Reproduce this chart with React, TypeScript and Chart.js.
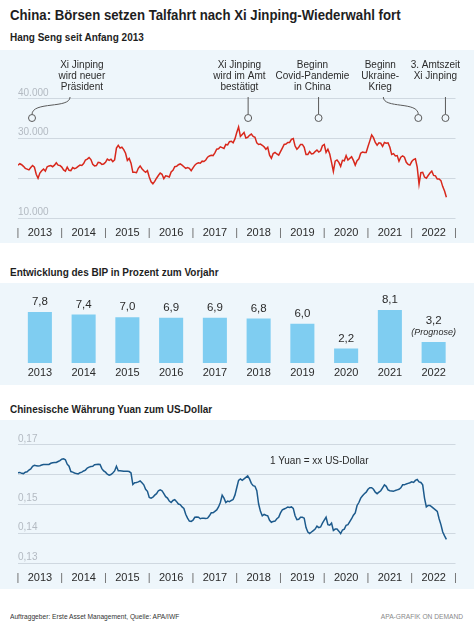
import React, { useEffect, useRef } from 'react';
import { Chart, registerables } from 'chart.js';

Chart.register(...registerables);

const FONT = '"Liberation Sans", Arial, Helvetica, sans-serif';

// ---------- DATA ----------
const years = ['2013', '2014', '2015', '2016', '2017', '2018', '2019', '2020', '2021', '2022'];

// Hang Seng index, two readings per month
const hsi2013 = [23300, 23650, 23400, 23000, 22500, 22300, 22100, 22700, 23200, 22800, 21000, 20000, 21300, 21900, 22300, 21800, 22900, 23100, 23200, 22900, 23300, 23900, 23300, 23200];
const hsi2014 = [22800, 22100, 21800, 22800, 22000, 21900, 22700, 22400, 22600, 23000, 23300, 23200, 23700, 24600, 24800, 25200, 24700, 23500, 23100, 23200, 24000, 23900, 23500, 23600];
const hsi2015 = [24000, 24800, 24500, 24800, 24200, 24600, 27600, 28300, 27600, 27800, 27200, 26300, 24500, 25000, 23800, 21500, 21500, 21400, 22500, 23100, 22400, 21900, 21500, 21900];
const hsi2016 = [20300, 19100, 18600, 19200, 20000, 20700, 21300, 21000, 19900, 20600, 20500, 20300, 21600, 22000, 22900, 23000, 23400, 23600, 23300, 22900, 22500, 22700, 22500, 21900];
const hsi2017 = [22600, 23300, 23700, 23900, 23800, 24300, 24200, 24600, 25300, 25600, 25800, 25700, 26400, 27300, 27400, 27900, 27700, 27500, 28500, 28400, 29200, 29300, 28900, 29900];
const hsi2018 = [31500, 32900, 30500, 31000, 31500, 30100, 30300, 30800, 31100, 30500, 30300, 28900, 28500, 28600, 28300, 27900, 27300, 27800, 25800, 25000, 26200, 26500, 26100, 25800];
const hsi2019 = [26700, 27600, 28500, 28600, 29000, 29000, 29800, 30000, 28100, 27300, 27800, 28500, 28500, 27800, 26000, 26000, 26700, 26100, 26200, 26700, 27100, 26600, 26900, 28200];
const hsi2020 = [28500, 26500, 27300, 26100, 24000, 21700, 24300, 24600, 24000, 23000, 24500, 24400, 25700, 24600, 25000, 25400, 24500, 23300, 24400, 24900, 26300, 26600, 26500, 26500];
const hsi2021 = [28000, 29400, 30900, 30200, 29000, 28300, 28900, 28800, 28000, 29000, 28800, 28900, 27800, 26000, 26200, 25600, 25700, 24300, 25300, 25600, 25300, 24000, 23500, 23300];
const hsi2022 = [24200, 24700, 24900, 22800, 18500, 21400, 21500, 20300, 20000, 20700, 21300, 21800, 20700, 20600, 19800, 19800, 19400, 17900, 16800, 15200];

// US-Dollar per Yuan, two readings per month
const cny2013 = [0.1606, 0.1607, 0.1604, 0.1603, 0.1608, 0.1609, 0.1615, 0.1619, 0.1628, 0.1631, 0.1630, 0.1629, 0.1630, 0.1632, 0.1634, 0.1634, 0.1634, 0.1634, 0.1638, 0.1640, 0.1641, 0.1641, 0.1644, 0.1647];
const cny2014 = [0.1652, 0.1653, 0.1650, 0.1635, 0.1628, 0.1610, 0.1608, 0.1605, 0.1603, 0.1602, 0.1606, 0.1608, 0.1612, 0.1615, 0.1622, 0.1625, 0.1627, 0.1628, 0.1633, 0.1634, 0.1635, 0.1634, 0.1620, 0.1612];
const cny2015 = [0.1608, 0.1601, 0.1598, 0.1600, 0.1605, 0.1612, 0.1628, 0.1613, 0.1613, 0.1612, 0.1611, 0.1611, 0.1611, 0.1610, 0.1605, 0.1566, 0.1572, 0.1573, 0.1575, 0.1578, 0.1572, 0.1565, 0.1550, 0.1543];
const cny2016 = [0.1522, 0.1520, 0.1523, 0.1530, 0.1535, 0.1545, 0.1548, 0.1545, 0.1535, 0.1525, 0.1520, 0.1510, 0.1505, 0.1512, 0.1515, 0.1508, 0.1500, 0.1498, 0.1490, 0.1485, 0.1465, 0.1452, 0.1442, 0.1441];
const cny2017 = [0.1445, 0.1455, 0.1456, 0.1455, 0.1450, 0.1452, 0.1452, 0.1451, 0.1452, 0.1460, 0.1470, 0.1470, 0.1475, 0.1480, 0.1490, 0.1505, 0.1530, 0.1520, 0.1505, 0.1510, 0.1508, 0.1512, 0.1515, 0.1530];
const cny2018 = [0.1555, 0.1580, 0.1585, 0.1580, 0.1585, 0.1590, 0.1595, 0.1585, 0.1570, 0.1562, 0.1560, 0.1545, 0.1500, 0.1475, 0.1460, 0.1465, 0.1462, 0.1460, 0.1445, 0.1438, 0.1441, 0.1442, 0.1450, 0.1455];
const cny2019 = [0.1470, 0.1480, 0.1483, 0.1486, 0.1490, 0.1488, 0.1490, 0.1485, 0.1460, 0.1447, 0.1448, 0.1455, 0.1455, 0.1452, 0.1420, 0.1405, 0.1400, 0.1405, 0.1410, 0.1415, 0.1425, 0.1420, 0.1422, 0.1435];
const cny2020 = [0.1445, 0.1455, 0.1430, 0.1428, 0.1435, 0.1410, 0.1415, 0.1415, 0.1408, 0.1400, 0.1412, 0.1415, 0.1428, 0.1430, 0.1440, 0.1450, 0.1462, 0.1470, 0.1495, 0.1505, 0.1520, 0.1528, 0.1535, 0.1540];
const cny2021 = [0.1550, 0.1555, 0.1555, 0.1550, 0.1540, 0.1535, 0.1540, 0.1545, 0.1555, 0.1565, 0.1560, 0.1548, 0.1545, 0.1544, 0.1543, 0.1546, 0.1548, 0.1550, 0.1555, 0.1565, 0.1565, 0.1568, 0.1570, 0.1572];
const cny2022 = [0.1575, 0.1573, 0.1580, 0.1583, 0.1575, 0.1573, 0.1565, 0.1520, 0.1490, 0.1495, 0.1495, 0.1490, 0.1485, 0.1480, 0.1475, 0.1450, 0.1430, 0.1405, 0.1392, 0.1380];

// GDP growth in % vs previous year
const gdpGrowth = [7.8, 7.4, 7.0, 6.9, 6.9, 6.8, 6.0, 2.2, 8.1, 3.2];
const gdpNotes = ['', '', '', '', '', '', '', '', '', '(Prognose)'];

// Events on the Hang Seng chart (dates as fractional years)
const eventDates = [2013.32, 2018.26, 2019.87, 2022.15, 2022.77];
const eventLabelDates = [2014.46, 2018.06, 2019.73, 2021.28, 2022.54];
const eventLinkDates = [2014.19, 2018.26, 2019.87, 2021.35, 2022.77];
const eventTexts = [
  ['Xi Jinping', 'wird neuer', 'Präsident'],
  ['Xi Jinping', 'wird im Amt', 'bestätigt'],
  ['Beginn', 'Covid-Pandemie', 'in China'],
  ['Beginn', 'Ukraine-', 'Krieg'],
  ['3. Amtszeit', 'Xi Jinping'],
];

const hsiTicks = [10000, 20000, 30000, 40000];
const hsiHiddenTicks = [20000];
const cnyTicks = [0.13, 0.14, 0.15, 0.16, 0.17];
const cnyHiddenTicks = [0.16];

// ---------- helpers ----------
const toPoints = (series: number[][]) =>
  series.flatMap((arr, yi) => arr.map((v, i) => ({ x: 2013 + yi + i / 24, y: v })));

const hsiPoints = toPoints([hsi2013, hsi2014, hsi2015, hsi2016, hsi2017, hsi2018, hsi2019, hsi2020, hsi2021, hsi2022]);
const cnyPoints = toPoints([cny2013, cny2014, cny2015, cny2016, cny2017, cny2018, cny2019, cny2020, cny2021, cny2022]);

const PANEL_BG = '#eef6fb';
const GRID = '#cfd8e0';
const YLABEL = '#b3bac2';
const TEXT = '#2b2b2b';

const yearAxis = (height: number) => ({
  type: 'linear' as const,
  min: 2013,
  max: 2023,
  afterBuildTicks: (s: any) => {
    const t: any[] = [];
    for (let y = 2013; y <= 2023; y++) {
      t.push({ value: y });
      if (y < 2023) t.push({ value: y + 0.5 });
    }
    s.ticks = t;
  },
  afterFit: (s: any) => { s.height = height; },
  grid: { display: false, drawTicks: false },
  border: { display: false },
  ticks: {
    autoSkip: false,
    maxRotation: 0,
    padding: 8,
    font: { family: FONT, size: 11 },
    color: (c: any) => (Number.isInteger(c.tick.value) ? '#6a6a6a' : TEXT),
    callback: (v: any) => (Number.isInteger(v) ? '|' : String(Math.floor(v))),
  },
});

const valueAxis = (min: number, max: number, ticks: number[], hidden: number[], fmt: (v: number) => string) => ({
  min,
  max,
  afterBuildTicks: (s: any) => { s.ticks = ticks.map((v) => ({ value: v })); },
  afterFit: (s: any) => { s.width = 0; },
  grid: { color: GRID, drawTicks: false, lineWidth: 1 },
  border: { display: false },
  ticks: {
    mirror: true,
    padding: 0,
    labelOffset: -6,
    color: YLABEL,
    font: { family: FONT, size: 10 },
    callback: (v: any) => (hidden.some((h) => Math.abs(h - v) < 1e-9) ? '' : fmt(v)),
  },
});

const eventsPlugin = {
  id: 'events',
  afterDatasetsDraw(chart: any) {
    const { ctx, scales } = chart;
    const xs = scales.x;
    const top = chart.chartArea.top;
    ctx.save();
    ctx.font = `10px ${FONT}`;
    ctx.textAlign = 'center';
    ctx.textBaseline = 'middle';
    ctx.strokeStyle = '#5a5a5a';
    ctx.lineWidth = 1;
    eventDates.forEach((d, i) => {
      const tx = xs.getPixelForValue(eventLabelDates[i]);
      ctx.fillStyle = TEXT;
      eventTexts[i].forEach((line, k) => ctx.fillText(line, tx, top + 6 + k * 11));
      const cx = xs.getPixelForValue(d);
      const sx = xs.getPixelForValue(eventLinkDates[i]);
      const sy = top + 38;
      const cy = top + 59;
      ctx.beginPath();
      ctx.moveTo(sx, sy);
      if (Math.abs(sx - cx) < 0.5) {
        ctx.lineTo(cx, cy - 3.5);
      } else {
        ctx.bezierCurveTo(sx, sy + 12, cx, sy + 4, cx, cy - 3.5);
      }
      ctx.stroke();
      ctx.beginPath();
      ctx.arc(cx, cy, 3.5, 0, Math.PI * 2);
      ctx.fillStyle = PANEL_BG;
      ctx.fill();
      ctx.stroke();
    });
    ctx.restore();
  },
};

const barLabelPlugin = {
  id: 'barLabels',
  afterDatasetsDraw(chart: any) {
    const { ctx } = chart;
    const meta = chart.getDatasetMeta(0);
    ctx.save();
    ctx.fillStyle = TEXT;
    ctx.textAlign = 'center';
    ctx.textBaseline = 'middle';
    meta.data.forEach((bar: any, i: number) => {
      const { x, y } = bar.getProps(['x', 'y'], true);
      const label = gdpGrowth[i].toFixed(1).replace('.', ',');
      if (gdpNotes[i]) {
        ctx.font = `italic 9px ${FONT}`;
        ctx.fillText(gdpNotes[i], x, y - 10);
        ctx.font = `11.5px ${FONT}`;
        ctx.fillText(label, x, y - 21);
      } else {
        ctx.font = `11.5px ${FONT}`;
        ctx.fillText(label, x, y - 10);
      }
    });
    ctx.restore();
  },
};

const baseOpts = {
  animation: false as const,
  responsive: false,
  maintainAspectRatio: false,
  events: [] as any[],
  plugins: { legend: { display: false }, tooltip: { enabled: false } },
};

function useChart(ref: React.RefObject<HTMLCanvasElement>, make: () => any) {
  useEffect(() => {
    if (!ref.current) return;
    const chart = new Chart(ref.current, make());
    return () => chart.destroy();
  }, []);
}

const deFmt = (v: number) => v.toLocaleString('de-DE');

export default function App() {
  const hsiRef = useRef<HTMLCanvasElement>(null);
  const gdpRef = useRef<HTMLCanvasElement>(null);
  const cnyRef = useRef<HTMLCanvasElement>(null);

  useChart(hsiRef, () => ({
    type: 'line',
    data: {
      datasets: [{ data: hsiPoints, borderColor: '#d8281c', borderWidth: 1.5, pointRadius: 0, tension: 0 }],
    },
    options: {
      ...baseOpts,
      layout: { padding: { top: 9, left: 18, right: 18.5, bottom: 0 } },
      scales: {
        x: yearAxis(25),
        y: valueAxis(10000, 50000, hsiTicks, hsiHiddenTicks, (v) => deFmt(v)),
      },
    },
    plugins: [eventsPlugin],
  }));

  useChart(gdpRef, () => ({
    type: 'bar',
    data: {
      labels: years,
      datasets: [{ data: gdpGrowth, backgroundColor: '#7fcdf1', categoryPercentage: 1, barPercentage: 0.55 }],
    },
    options: {
      ...baseOpts,
      layout: { padding: { top: 14.6, left: 18, right: 18.5, bottom: 0 } },
      scales: {
        x: {
          afterFit: (s: any) => { s.height = 22; },
          grid: { display: false, drawTicks: false },
          border: { display: false },
          ticks: { padding: 3.5, color: TEXT, font: { family: FONT, size: 11 }, maxRotation: 0, autoSkip: false },
        },
        y: { display: false, min: 0, max: 10 },
      },
    },
    plugins: [barLabelPlugin],
  }));

  useChart(cnyRef, () => ({
    type: 'line',
    data: {
      datasets: [{ data: cnyPoints, borderColor: '#1c5a8c', borderWidth: 1.5, pointRadius: 0, tension: 0 }],
    },
    options: {
      ...baseOpts,
      layout: { padding: { top: 7.3, left: 18, right: 18.5, bottom: 0 } },
      scales: {
        x: yearAxis(26),
        y: valueAxis(0.13, 0.176, cnyTicks, cnyHiddenTicks, (v) => v.toFixed(2).replace('.', ',')),
      },
    },
  }));

  const abs = (o: React.CSSProperties): React.CSSProperties => ({ position: 'absolute', margin: 0, ...o });
  const sub = (top: number): React.CSSProperties =>
    abs({ left: 10, top, fontSize: 10.5, lineHeight: '12px', fontWeight: 700, whiteSpace: 'nowrap', transform: 'scaleX(0.95)', transformOrigin: 'left center', color: '#1e1e1e' });

  return (
    <div style={{ position: 'absolute', left: 0, top: 0, width: 474, height: 626, background: '#fff', overflow: 'hidden', fontFamily: FONT, color: TEXT }}>
      <div style={abs({ left: 10, top: 6, fontSize: 15, lineHeight: '18px', fontWeight: 700, color: '#1e1e1e', whiteSpace: 'nowrap', transform: 'scaleX(0.88)', transformOrigin: 'left center' })}>
        China: Börsen setzen Talfahrt nach Xi Jinping-Wiederwahl fort
      </div>
      <div style={sub(31)}>Hang Seng seit Anfang 2013</div>
      <div style={abs({ left: 0, top: 50, width: 474, height: 193, background: PANEL_BG })}>
        <canvas ref={hsiRef} width={474} height={193} style={{ width: 474, height: 193, display: 'block' }} />
      </div>

      <div style={sub(266)}>Entwicklung des BIP in Prozent zum Vorjahr</div>
      <div style={abs({ left: 0, top: 283, width: 474, height: 102, background: PANEL_BG })}>
        <canvas ref={gdpRef} width={474} height={102} style={{ width: 474, height: 102, display: 'block' }} />
      </div>

      <div style={sub(403)}>Chinesische Währung Yuan zum US-Dollar</div>
      <div style={abs({ left: 0, top: 420, width: 474, height: 169, background: PANEL_BG })}>
        <canvas ref={cnyRef} width={474} height={169} style={{ width: 474, height: 169, display: 'block' }} />
        <div style={abs({ left: 270, top: 35, fontSize: 10, lineHeight: '12px', whiteSpace: 'nowrap' })}>1 Yuan = xx US-Dollar</div>
      </div>

      <div style={abs({ left: 10, top: 612, fontSize: 8, lineHeight: '10px', whiteSpace: 'nowrap', transform: 'scaleX(0.83)', transformOrigin: 'left center', color: '#333' })}>
        Auftraggeber: Erste Asset Management, Quelle: APA/IWF
      </div>
      <div style={abs({ right: 11, top: 612, fontSize: 8, lineHeight: '10px', whiteSpace: 'nowrap', transform: 'scaleX(0.83)', transformOrigin: 'right center', color: '#8a8a8a' })}>
        APA-GRAFIK ON DEMAND
      </div>
    </div>
  );
}
